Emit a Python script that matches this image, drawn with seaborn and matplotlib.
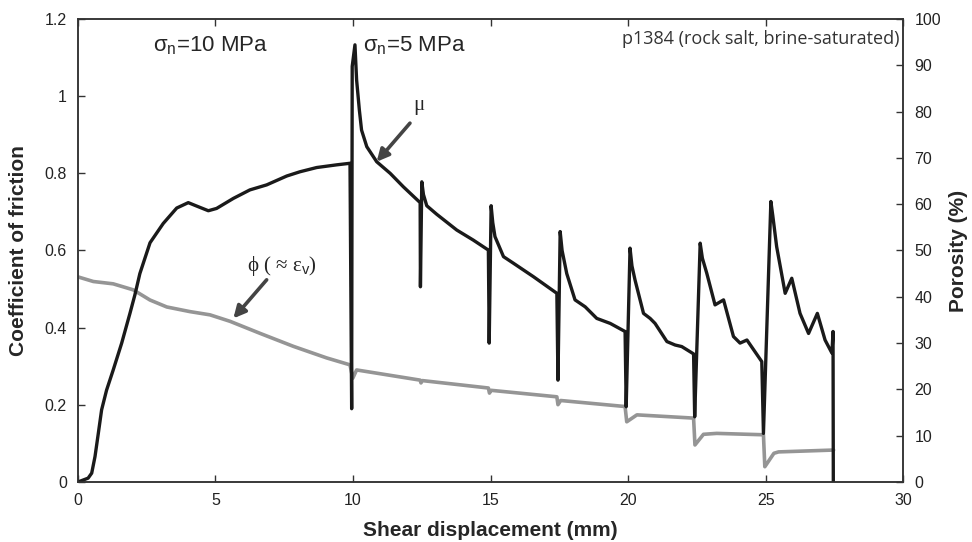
import pandas as pd
import matplotlib
matplotlib.use("Agg")
import matplotlib.pyplot as plt
import seaborn as sns

# Theme first, fonts after (set_theme resets font.family)
sns.set_theme(style="ticks")
plt.rcParams['font.family'] = ['Liberation Sans', 'DejaVu Sans']
plt.rcParams['mathtext.fontset'] = 'custom'
plt.rcParams['mathtext.rm'] = 'Liberation Sans'

# Friction coefficient (mu) vs shear displacement
mu_x = [0, 0.37, 0.5, 0.62, 0.74, 0.86, 1.04, 1.28, 1.59, 1.89, 2.07, 2.25, 2.62, 3.1,
        3.59, 4.01, 4.32, 4.74, 5.04, 5.65, 6.25, 6.86, 7.59, 8.07, 8.68, 9.41, 9.89,
        9.95, 9.97, 10.07, 10.13, 10.23, 10.31, 10.5, 10.86, 11.35, 11.83, 12.44,
        12.45, 12.5, 12.56, 12.68, 13.04, 13.77, 14.37, 14.92, 14.95, 15.02, 15.08,
        15.16, 15.47, 15.83, 16.56, 17.41, 17.45, 17.53, 17.6, 17.77, 18.07, 18.44,
        18.86, 19.35, 19.89, 19.93, 20.07, 20.14, 20.25, 20.56, 20.8, 20.98, 21.41,
        21.71, 21.95, 22.38, 22.42, 22.62, 22.7, 22.86, 23.16, 23.47, 23.83, 24.07,
        24.32, 24.86, 24.92, 25.19, 25.26, 25.4, 25.71, 25.95, 26.25, 26.56, 26.88,
        27.16, 27.41, 27.45, 27.46]
mu_y = [0, 0.01, 0.023, 0.066, 0.126, 0.187, 0.238, 0.29, 0.36, 0.437, 0.485, 0.54,
        0.62, 0.67, 0.71, 0.724, 0.715, 0.703, 0.709, 0.735, 0.757, 0.77, 0.793, 0.804,
        0.815, 0.822, 0.826, 0.19, 1.077, 1.133, 1.042, 0.964, 0.912, 0.869, 0.83,
        0.80, 0.765, 0.724, 0.506, 0.778, 0.745, 0.716, 0.694, 0.653, 0.627, 0.601,
        0.36, 0.716, 0.672, 0.636, 0.584, 0.567, 0.532, 0.489, 0.264, 0.649, 0.6,
        0.54, 0.472, 0.454, 0.424, 0.411, 0.39, 0.195, 0.606, 0.56, 0.524, 0.437,
        0.424, 0.411, 0.364, 0.355, 0.351, 0.332, 0.169, 0.619, 0.58, 0.541, 0.459,
        0.472, 0.377, 0.36, 0.368, 0.312, 0.126, 0.727, 0.69, 0.61, 0.489, 0.528,
        0.437, 0.385, 0.437, 0.368, 0.334, 0.39, 0.0]

# Porosity (%) vs shear displacement
phi_x = [0, 0.56, 1.28, 2.01, 2.62, 3.23, 4.07, 4.8, 5.53, 6.62, 7.83, 9.04, 9.89,
         9.99, 10.13, 12.44, 12.47, 12.52, 14.92, 14.96, 15.02, 17.41, 17.45, 17.55,
         19.89, 19.95, 20.32, 22.38, 22.43, 22.74, 23.22, 24.92, 24.97, 25.3, 25.47, 27.47]
phi_p = [44.3, 43.3, 42.8, 41.5, 39.3, 37.8, 36.8, 36.1, 34.7, 32.1, 29.3, 26.8, 25.3,
         22.4, 24.2, 22.0, 21.4, 21.9, 20.3, 19.2, 19.8, 18.4, 16.7, 17.6,
         16.3, 13.0, 14.5, 13.8, 8.0, 10.3, 10.5, 10.2, 3.3, 6.2, 6.5, 6.9]

x_ticks = [0, 5, 10, 15, 20, 25, 30]
mu_ticks = [0, 0.2, 0.4, 0.6, 0.8, 1.0, 1.2]
mu_tick_labels = ['0', '0.2', '0.4', '0.6', '0.8', '1', '1.2']
phi_ticks = [0, 10, 20, 30, 40, 50, 60, 70, 80, 90, 100]

mu_df = pd.DataFrame({'disp': mu_x, 'mu': mu_y})
phi_df = pd.DataFrame({'disp': phi_x, 'phi': phi_p})

fig = plt.figure(figsize=(9.72, 5.42), dpi=100)
ax = fig.add_axes([0.0802, 0.1107, 0.849, 0.8543])
ax2 = ax.twinx()

sns.lineplot(data=phi_df, x='disp', y='phi', ax=ax2, sort=False, estimator=None,
             color='#959595', linewidth=2.6)
sns.lineplot(data=mu_df, x='disp', y='mu', ax=ax, sort=False, estimator=None,
             color='#1a1a1a', linewidth=2.4)
ax.set_zorder(ax2.get_zorder() + 1)
ax.patch.set_visible(False)

ax.set_xlim(0, 30)
ax.set_ylim(0, 1.2)
ax2.set_ylim(0, 100)
ax.set_xticks(x_ticks)
ax.set_xticklabels([str(t) for t in x_ticks])
ax.set_yticks(mu_ticks)
ax.set_yticklabels(mu_tick_labels)
ax2.set_yticks(phi_ticks)
ax2.set_yticklabels([str(t) for t in phi_ticks])

spine_col = '#333333'
for a in (ax, ax2):
    for s in a.spines.values():
        s.set_visible(True)
        s.set_color(spine_col)
        s.set_linewidth(1.1)
ax.tick_params(axis='x', direction='in', length=5, width=1, color=spine_col,
               top=True, labelsize=11.5, labelcolor='#222222', pad=8)
ax.tick_params(axis='y', direction='in', length=5, width=1, color=spine_col,
               right=False, labelsize=11.5, labelcolor='#222222', pad=8)
ax2.tick_params(axis='y', direction='in', length=5, width=1, color=spine_col,
                labelsize=11.5, labelcolor='#222222', pad=8)

ax.set_xlabel('Shear displacement (mm)', fontsize=15, fontweight='bold', labelpad=9)
ax.set_ylabel('Coefficient of friction', fontsize=15, fontweight='bold', labelpad=12)
ax2.set_ylabel('Porosity (%)', fontsize=15, fontweight='bold', labelpad=6)

ax.text(2.73, 1.13, r'σ$_{\rm n}$=10 MPa', fontsize=16, va='center', ha='left')
ax.text(10.36, 1.13, r'σ$_{\rm n}$=5 MPa', fontsize=16, va='center', ha='left')
ax.text(29.85, 1.148, 'p1384 (rock salt, brine-saturated)', fontsize=13,
        va='center', ha='right', color='#333333', family=['Open Sans', 'DejaVu Sans'])

arrow_kw = dict(arrowstyle='-|>', color='#444444', lw=2.6, mutation_scale=18,
                shrinkA=0, shrinkB=0)
ax.annotate('', xy=(10.86, 0.83), xytext=(12.07, 0.93), arrowprops=arrow_kw)
ax.text(12.2, 0.975, 'μ', fontsize=15, ha='left', va='center',
        family=['Liberation Serif', 'DejaVu Serif'])
ax.annotate('', xy=(5.65, 0.424), xytext=(6.86, 0.524), arrowprops=arrow_kw)
ax.text(6.15, 0.56, r'ϕ ( ≈ ε$_{\rm v}$)', fontsize=15, ha='left', va='center',
        family=['Liberation Serif', 'DejaVu Serif'])

fig.savefig('out.png', dpi=100)
